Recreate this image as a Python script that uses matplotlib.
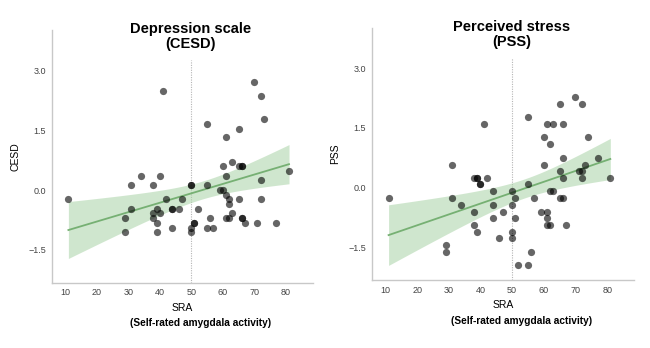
import numpy as np
import matplotlib
matplotlib.use('Agg')
import matplotlib.pyplot as plt

plt.rcParams['font.family'] = ['Liberation Sans', 'DejaVu Sans']

# CESD panel (x = SRA, y = CESD)
cesd_x = [11, 29, 29, 31, 31, 34, 38, 38, 38, 39, 39, 39, 40, 40, 41, 42, 44, 44, 44,
          46, 47, 50, 50, 50, 50, 51, 51, 52, 55, 55, 55, 56, 57, 59, 60, 60, 61, 61,
          61, 61, 62, 62, 62, 63, 63, 65, 65, 65, 66, 66, 66, 66, 67, 70, 71, 72, 72,
          72, 73, 77, 81]
cesd_y = [-0.22, -0.70, -1.05, 0.12, -0.47, 0.36, 0.12, -0.58, -0.70, -0.82, -1.05, -0.47,
          -0.58, 0.36, 2.48, -0.22, -0.47, -0.47, -0.94, -0.47, -0.22, 0.12, 0.12, -0.94,
          -1.05, -0.82, -0.82, -0.47, 1.65, 0.12, -0.94, -0.70, -0.94, 0.00, 0.00, 0.60,
          1.32, 0.36, -0.11, -0.70, -0.22, -0.35, -0.70, 0.71, -0.58, 1.54, 0.60, -0.22,
          0.60, 0.60, -0.70, -0.70, -0.82, 2.72, -0.82, 2.37, 0.25, -0.22, 1.77, -0.82,
          0.47]
# fitted line: value at x=11 and x=81
cesd_fit = [-1.0, 0.65]

# PSS panel (x = SRA, y = PSS)
pss_x = [11, 29, 29, 31, 31, 34, 38, 39, 39, 40, 40, 41, 42, 44, 44, 44, 38, 47, 38, 39,
         46, 50, 51, 50, 51, 50, 50, 52, 55, 56, 55, 55, 57, 59, 60, 60, 61, 63, 62,
         61, 61, 61, 62, 62, 63, 65, 66, 66, 65, 66, 65, 66, 67, 70, 72, 71, 72, 73,
         72, 74, 77, 81]
pss_y = [-0.27, -1.44, -1.62, 0.58, -0.27, -0.43, 0.24, 0.24, 0.24, 0.08, 0.08, 1.59, 0.24,
         -0.09, -0.43, -0.76, -0.60, -0.60, -0.93, -1.11, -1.27, -0.09, -0.26, -0.43, -0.76,
         -1.11, -1.27, -1.94, -1.94, -1.61, 1.77, 0.08, -0.26, -0.60, 1.26, 0.58, 1.59, 1.59,
         1.09, -0.60, -0.76, -0.93, -0.93, -0.09, -0.09, 2.10, 1.59, 0.75, 0.42, 0.24, -0.26,
         -0.26, -0.93, 2.27, 2.10, 0.42, 0.42, 0.58, 0.24, 1.26, 0.75, 0.24]
pss_fit = [-1.19, 0.72]

panels = [
    ('Depression scale\n(CESD)', 'CESD', cesd_x, cesd_y, cesd_fit),
    ('Perceived stress\n(PSS)', 'PSS', pss_x, pss_y, pss_fit),
]
fit_range = [11, 81]
x_ticks = [10, 20, 30, 40, 50, 60, 70, 80]
y_ticks = [-1.5, 0.0, 1.5, 3.0]
y_tick_labels = ['\u22121.5', '0.0', '1.5', '3.0']
ref_x = 50
t_crit = 2.0

fig = plt.figure(figsize=(6.5, 3.48), dpi=100)
axes_pos = [[0.0795, 0.1876, 0.402, 0.726], [0.572, 0.195, 0.404, 0.725]]

for pos, (title, ylab, xs, ys, fit) in zip(axes_pos, panels):
    ax = fig.add_axes(pos)
    xs = np.array(xs, float)
    ys = np.array(ys, float)

    # fitted line + 95% CI band around it
    b = (fit[1] - fit[0]) / (fit_range[1] - fit_range[0])
    a = fit[0] - b * fit_range[0]
    n = len(xs)
    resid = ys - (a + b * xs)
    s = np.sqrt(np.sum(resid ** 2) / (n - 2))
    gx = np.linspace(fit_range[0], fit_range[1], 100)
    gy = a + b * gx
    se = s * np.sqrt(1 / n + (gx - xs.mean()) ** 2 / np.sum((xs - xs.mean()) ** 2))
    ax.fill_between(gx, gy - t_crit * se, gy + t_crit * se, color='#a9d3a6', alpha=0.55,
                    linewidth=0, zorder=1)
    ax.plot(gx, gy, color='#76b073', lw=1.3, zorder=2)

    ax.axvline(ref_x, ymin=0, ymax=0.88, color='#b5b5b5', lw=0.8, ls=(0, (1, 1.2)), zorder=0)
    ax.scatter(xs, ys, s=27, color='black', alpha=0.6, linewidths=0, zorder=3)

    ax.set_xlim(5.7, 88.6)
    ax.set_ylim(-2.32, 4.01)
    ax.set_xticks(x_ticks)
    ax.set_yticks(y_ticks)
    ax.set_yticklabels(y_tick_labels)
    ax.tick_params(length=0, labelsize=6.5, colors='#444444', pad=4)
    for side in ['top', 'right']:
        ax.spines[side].set_visible(False)
    for side in ['left', 'bottom']:
        ax.spines[side].set_color('#c8c8c8')
        ax.spines[side].set_linewidth(1.0)

    ax.text(0.532, 0.975, title, transform=ax.transAxes, ha='center', va='center',
            fontsize=10.5, fontweight='bold', linespacing=1.1)
    ax.set_xlabel('SRA', fontsize=7.5, labelpad=4)
    ax.set_ylabel(ylab, fontsize=7.5, labelpad=6)
    ax.text(0.57, -0.16, '(Self-rated amygdala activity)', transform=ax.transAxes,
            ha='center', va='center', fontsize=7.3, fontweight='bold')

fig.savefig('out.png', dpi=100)
